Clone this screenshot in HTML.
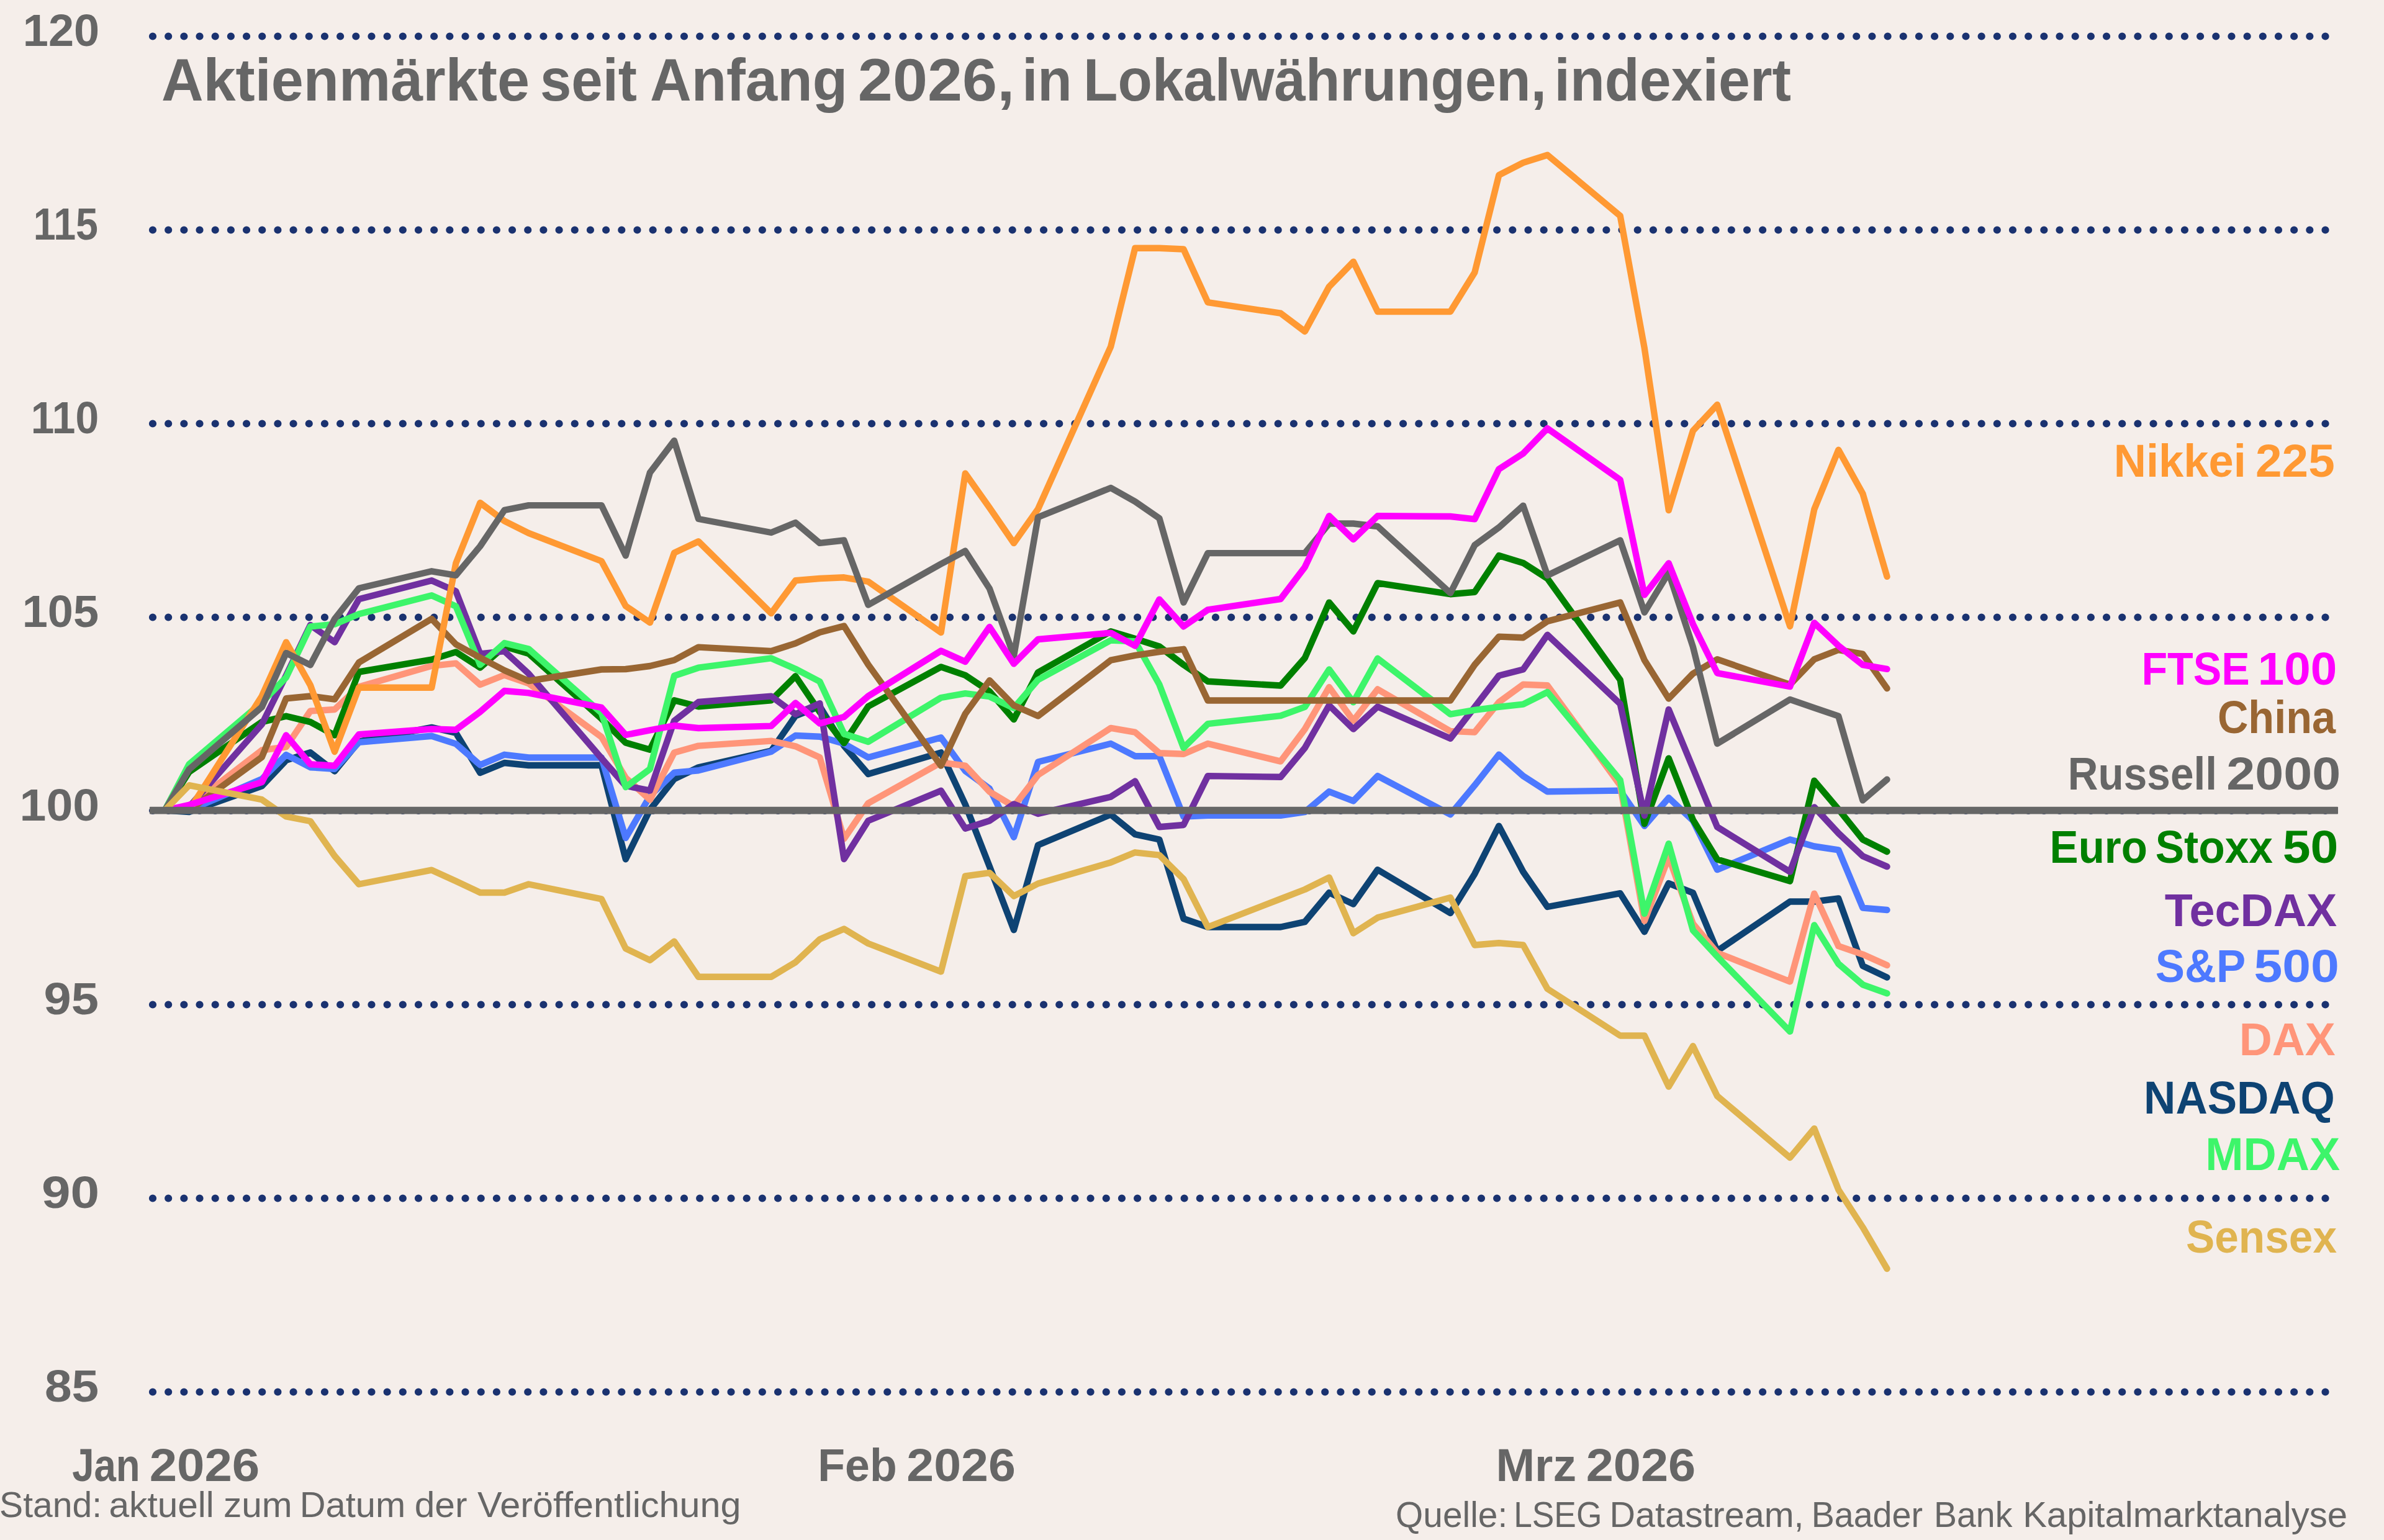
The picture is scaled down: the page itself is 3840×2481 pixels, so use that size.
<!DOCTYPE html>
<html lang="de"><head><meta charset="utf-8"><title>Aktienmärkte seit Anfang 2026</title>
<style>html,body{margin:0;padding:0;background:#f5eeea;}body{width:3840px;height:2481px;overflow:hidden;}svg{display:block;}text{font-family:"Liberation Sans",sans-serif;}</style></head><body>
<svg width="3840" height="2481" viewBox="0 0 3840 2481">
<rect width="3840" height="2481" fill="#f5eeea"/>
<g stroke="#1a3270" stroke-width="12.2" stroke-linecap="round" stroke-dasharray="0 25.1763" fill="none">
<path d="M246.00 58.50 H3746.50"/>
<path d="M246.00 370.50 H3746.50"/>
<path d="M246.00 682.50 H3746.50"/>
<path d="M246.00 994.50 H3746.50"/>
<path d="M246.00 1306.00 H3746.50"/>
<path d="M246.00 1618.50 H3746.50"/>
<path d="M246.00 1930.50 H3746.50"/>
<path d="M246.00 2242.50 H3746.50"/>
</g>
<text x="36.74" y="74.0" font-size="73" font-weight="bold" fill="#666666" textLength="123.45" lengthAdjust="spacingAndGlyphs">120</text>
<text x="53.84" y="386.0" font-size="73" font-weight="bold" fill="#666666" textLength="104.22" lengthAdjust="spacingAndGlyphs">115</text>
<text x="49.80" y="698.0" font-size="73" font-weight="bold" fill="#666666" textLength="109.31" lengthAdjust="spacingAndGlyphs">110</text>
<text x="35.73" y="1010.0" font-size="73" font-weight="bold" fill="#666666" textLength="123.39" lengthAdjust="spacingAndGlyphs">105</text>
<text x="31.54" y="1321.5" font-size="73" font-weight="bold" fill="#666666" textLength="128.65" lengthAdjust="spacingAndGlyphs">100</text>
<text x="70.64" y="1634.0" font-size="73" font-weight="bold" fill="#666666" textLength="88.47" lengthAdjust="spacingAndGlyphs">95</text>
<text x="67.03" y="1946.0" font-size="73" font-weight="bold" fill="#666666" textLength="93.16" lengthAdjust="spacingAndGlyphs">90</text>
<text x="71.90" y="2258.0" font-size="73" font-weight="bold" fill="#666666" textLength="87.20" lengthAdjust="spacingAndGlyphs">85</text>
<text x="259.98" y="162.0" font-size="97" font-weight="bold" fill="#666666" textLength="593.05" lengthAdjust="spacingAndGlyphs">Aktienmärkte</text>
<text x="869.94" y="162.0" font-size="97" font-weight="bold" fill="#666666" textLength="156.08" lengthAdjust="spacingAndGlyphs">seit</text>
<text x="1046.95" y="162.0" font-size="97" font-weight="bold" fill="#666666" textLength="318.19" lengthAdjust="spacingAndGlyphs">Anfang</text>
<text x="1381.87" y="162.0" font-size="97" font-weight="bold" fill="#666666" textLength="252.35" lengthAdjust="spacingAndGlyphs">2026,</text>
<text x="1646.15" y="162.0" font-size="97" font-weight="bold" fill="#666666" textLength="80.69" lengthAdjust="spacingAndGlyphs">in</text>
<text x="1745.12" y="162.0" font-size="97" font-weight="bold" fill="#666666" textLength="745.78" lengthAdjust="spacingAndGlyphs">Lokalwährungen,</text>
<text x="2503.50" y="162.0" font-size="97" font-weight="bold" fill="#666666" textLength="381.52" lengthAdjust="spacingAndGlyphs">indexiert</text>
<text x="116.17" y="2386.0" font-size="75" font-weight="bold" fill="#666666" textLength="109.54" lengthAdjust="spacingAndGlyphs">Jan</text>
<text x="240.71" y="2386.0" font-size="75" font-weight="bold" fill="#666666" textLength="177.56" lengthAdjust="spacingAndGlyphs">2026</text>
<text x="1317.37" y="2386.0" font-size="75" font-weight="bold" fill="#666666" textLength="127.37" lengthAdjust="spacingAndGlyphs">Feb</text>
<text x="1460.33" y="2386.0" font-size="75" font-weight="bold" fill="#666666" textLength="175.54" lengthAdjust="spacingAndGlyphs">2026</text>
<text x="2409.38" y="2386.0" font-size="75" font-weight="bold" fill="#666666" textLength="129.73" lengthAdjust="spacingAndGlyphs">Mrz</text>
<text x="2554.71" y="2386.0" font-size="75" font-weight="bold" fill="#666666" textLength="176.56" lengthAdjust="spacingAndGlyphs">2026</text>
<text x="-0.92" y="2443.7" font-size="57.5" fill="#666666" textLength="164.91" lengthAdjust="spacingAndGlyphs">Stand:</text>
<text x="175.51" y="2443.7" font-size="57.5" fill="#666666" textLength="169.40" lengthAdjust="spacingAndGlyphs">aktuell</text>
<text x="359.90" y="2443.7" font-size="57.5" fill="#666666" textLength="110.88" lengthAdjust="spacingAndGlyphs">zum</text>
<text x="482.82" y="2443.7" font-size="57.5" fill="#666666" textLength="170.31" lengthAdjust="spacingAndGlyphs">Datum</text>
<text x="667.72" y="2443.7" font-size="57.5" fill="#666666" textLength="84.72" lengthAdjust="spacingAndGlyphs">der</text>
<text x="769.00" y="2443.7" font-size="57.5" fill="#666666" textLength="424.63" lengthAdjust="spacingAndGlyphs">Veröffentlichung</text>
<text x="2248.10" y="2460.1" font-size="57.5" fill="#666666" textLength="180.13" lengthAdjust="spacingAndGlyphs">Quelle:</text>
<text x="2438.20" y="2460.1" font-size="57.5" fill="#666666" textLength="142.18" lengthAdjust="spacingAndGlyphs">LSEG</text>
<text x="2592.47" y="2460.1" font-size="57.5" fill="#666666" textLength="313.07" lengthAdjust="spacingAndGlyphs">Datastream,</text>
<text x="2917.67" y="2460.1" font-size="57.5" fill="#666666" textLength="179.36" lengthAdjust="spacingAndGlyphs">Baader</text>
<text x="3115.06" y="2460.1" font-size="57.5" fill="#666666" textLength="126.35" lengthAdjust="spacingAndGlyphs">Bank</text>
<text x="3258.14" y="2460.1" font-size="57.5" fill="#666666" textLength="522.89" lengthAdjust="spacingAndGlyphs">Kapitalmarktanalyse</text>
<g fill="none" stroke-width="10.4" stroke-linejoin="round" stroke-linecap="round">
<polyline stroke="#0e4373" points="265.5,1305.5 304.6,1308.0 421.8,1266.4 460.9,1224.9 499.9,1212.3 539.0,1242.5 578.1,1194.6 695.3,1171.9 734.3,1180.8 773.4,1245.0 812.5,1229.0 851.5,1233.0 968.8,1232.8 1007.8,1384.3 1046.9,1304.5 1086.0,1255.0 1125.0,1236.3 1242.2,1209.6 1281.3,1153.4 1320.4,1138.0 1359.5,1201.6 1398.5,1247.0 1515.7,1212.4 1554.8,1296.0 1593.9,1396.0 1633.0,1498.2 1672.0,1361.5 1789.2,1312.2 1828.3,1344.1 1867.4,1352.5 1906.4,1480.0 1945.5,1493.5 2062.7,1493.5 2101.8,1485.1 2140.9,1438.1 2179.9,1456.5 2219.0,1401.1 2336.2,1471.0 2375.3,1407.9 2414.3,1330.6 2453.4,1404.5 2492.5,1461.0 2609.7,1439.2 2648.8,1501.2 2687.8,1423.2 2726.9,1438.3 2766.0,1532.0 2883.2,1452.5 2922.3,1452.5 2961.3,1447.5 3000.4,1556.1 3039.5,1574.6"/>
<polyline stroke="#4d79ff" points="265.5,1305.5 304.6,1305.5 421.8,1255.1 460.9,1216.0 499.9,1236.2 539.0,1238.7 578.1,1195.9 695.3,1185.8 734.3,1198.4 773.4,1232.4 812.5,1215.8 851.5,1220.5 968.8,1220.5 1007.8,1350.0 1046.9,1282.3 1086.0,1244.8 1125.0,1241.2 1242.2,1211.0 1281.3,1185.0 1320.4,1186.8 1359.5,1198.0 1398.5,1220.2 1515.7,1188.3 1554.8,1242.0 1593.9,1270.5 1633.0,1348.7 1672.0,1227.5 1789.2,1198.0 1828.3,1218.2 1867.4,1218.2 1906.4,1315.5 1945.5,1313.9 2062.7,1313.9 2101.8,1308.2 2140.9,1275.3 2179.9,1290.4 2219.0,1250.1 2336.2,1312.2 2375.3,1265.2 2414.3,1215.6 2453.4,1250.1 2492.5,1275.3 2609.7,1273.6 2648.8,1330.6 2687.8,1285.3 2726.9,1322.0 2766.0,1401.1 2883.2,1352.5 2922.3,1363.5 2961.3,1369.3 3000.4,1462.6 3039.5,1466.0"/>
<polyline stroke="#ff9579" points="265.5,1305.5 304.6,1299.0 421.8,1208.5 460.9,1203.4 499.9,1145.5 539.0,1143.0 578.1,1106.4 695.3,1072.8 734.3,1068.7 773.4,1103.0 812.5,1087.5 851.5,1101.0 968.8,1187.2 1007.8,1253.0 1046.9,1288.5 1086.0,1212.4 1125.0,1201.6 1242.2,1193.6 1281.3,1202.3 1320.4,1220.3 1359.5,1351.3 1398.5,1294.0 1515.7,1228.5 1554.8,1233.6 1593.9,1275.5 1633.0,1299.0 1672.0,1248.5 1789.2,1172.9 1828.3,1179.6 1867.4,1213.2 1906.4,1214.8 1945.5,1198.0 2062.7,1226.6 2101.8,1174.6 2140.9,1107.0 2179.9,1161.1 2219.0,1110.4 2336.2,1177.9 2375.3,1179.6 2414.3,1131.3 2453.4,1102.8 2492.5,1104.2 2609.7,1265.2 2648.8,1483.6 2687.8,1381.0 2726.9,1488.0 2766.0,1535.0 2883.2,1581.3 2922.3,1439.6 2961.3,1524.2 3000.4,1537.6 3039.5,1555.1"/>
<polyline stroke="#008000" points="265.5,1305.5 304.6,1243.8 421.8,1163.1 460.9,1153.8 499.9,1163.1 539.0,1184.5 578.1,1082.5 695.3,1062.6 734.3,1050.4 773.4,1075.5 812.5,1041.6 851.5,1053.0 968.8,1158.0 1007.8,1196.6 1046.9,1207.8 1086.0,1128.2 1125.0,1138.2 1242.2,1128.2 1281.3,1089.3 1320.4,1147.0 1359.5,1197.2 1398.5,1138.0 1515.7,1074.4 1554.8,1087.8 1593.9,1113.8 1633.0,1159.0 1672.0,1083.2 1789.2,1017.2 1828.3,1029.0 1867.4,1041.5 1906.4,1071.0 1945.5,1097.8 2062.7,1104.5 2101.8,1060.0 2140.9,970.6 2179.9,1017.2 2219.0,939.4 2336.2,957.2 2375.3,953.9 2414.3,895.1 2453.4,906.9 2492.5,932.0 2609.7,1095.2 2648.8,1327.3 2687.8,1221.6 2726.9,1320.6 2766.0,1384.4 2883.2,1419.6 2922.3,1257.8 2961.3,1303.8 3000.4,1352.5 3039.5,1372.0"/>
<polyline stroke="#7030a0" points="265.5,1305.5 304.6,1300.0 421.8,1166.9 460.9,1088.0 499.9,1006.9 539.0,1034.6 578.1,965.3 695.3,935.3 734.3,952.4 773.4,1053.3 812.5,1049.2 851.5,1085.3 968.8,1221.5 1007.8,1266.0 1046.9,1273.6 1086.0,1161.3 1125.0,1131.0 1242.2,1121.6 1281.3,1150.6 1320.4,1133.2 1359.5,1384.0 1398.5,1322.3 1515.7,1273.9 1554.8,1334.8 1593.9,1322.3 1633.0,1295.4 1672.0,1311.0 1789.2,1283.7 1828.3,1258.5 1867.4,1332.3 1906.4,1329.0 1945.5,1250.1 2062.7,1251.8 2101.8,1204.8 2140.9,1136.4 2179.9,1174.6 2219.0,1138.5 2336.2,1189.7 2375.3,1139.3 2414.3,1088.5 2453.4,1078.5 2492.5,1022.8 2609.7,1134.0 2648.8,1313.9 2687.8,1143.0 2726.9,1237.6 2766.0,1332.3 2883.2,1404.5 2922.3,1300.4 2961.3,1342.4 3000.4,1379.3 3039.5,1396.1"/>
<polyline stroke="#3df56a" points="265.5,1305.5 304.6,1231.2 421.8,1131.6 460.9,1091.3 499.9,1009.4 539.0,1005.6 578.1,989.2 695.3,959.3 734.3,976.8 773.4,1071.0 812.5,1036.0 851.5,1045.5 968.8,1148.7 1007.8,1268.0 1046.9,1239.0 1086.0,1088.7 1125.0,1075.7 1242.2,1060.4 1281.3,1077.7 1320.4,1098.0 1359.5,1182.2 1398.5,1195.0 1515.7,1124.0 1554.8,1117.2 1593.9,1122.2 1633.0,1140.7 1672.0,1095.2 1789.2,1031.5 1828.3,1033.2 1867.4,1102.8 1906.4,1204.8 1945.5,1166.2 2062.7,1153.2 2101.8,1138.9 2140.9,1078.5 2179.9,1131.3 2219.0,1060.8 2336.2,1150.6 2375.3,1143.9 2414.3,1138.9 2453.4,1134.7 2492.5,1115.0 2609.7,1256.8 2648.8,1472.0 2687.8,1359.2 2726.9,1498.7 2766.0,1541.0 2883.2,1661.8 2922.3,1490.4 2961.3,1552.7 3000.4,1586.3 3039.5,1600.4"/>
<polyline stroke="#996633" points="265.5,1305.5 304.6,1305.5 421.8,1219.8 460.9,1125.3 499.9,1121.5 539.0,1126.6 578.1,1067.3 695.3,997.0 734.3,1038.0 773.4,1059.5 812.5,1080.0 851.5,1097.0 968.8,1078.5 1007.8,1078.0 1046.9,1073.0 1086.0,1063.5 1125.0,1042.6 1242.2,1049.0 1281.3,1036.5 1320.4,1018.7 1359.5,1008.6 1398.5,1070.8 1515.7,1233.6 1554.8,1150.0 1593.9,1096.2 1633.0,1136.5 1672.0,1153.5 1789.2,1063.7 1828.3,1055.8 1867.4,1050.0 1906.4,1045.8 1945.5,1128.5 2062.7,1128.5 2101.8,1128.5 2140.9,1128.5 2179.9,1128.5 2219.0,1128.5 2336.2,1128.5 2375.3,1071.0 2414.3,1025.6 2453.4,1027.3 2492.5,1000.9 2609.7,970.6 2648.8,1063.4 2687.8,1125.5 2726.9,1085.2 2766.0,1062.2 2883.2,1102.8 2922.3,1062.1 2961.3,1047.0 3000.4,1053.7 3039.5,1109.1"/>
<polyline stroke="#ff9933" points="265.5,1305.5 304.6,1305.5 421.8,1121.5 460.9,1034.6 499.9,1103.9 539.0,1211.0 578.1,1107.7 695.3,1107.7 734.3,907.4 773.4,810.0 812.5,839.3 851.5,858.8 968.8,904.0 1007.8,976.2 1046.9,1003.0 1086.0,890.6 1125.0,872.2 1242.2,988.0 1281.3,935.3 1320.4,932.0 1359.5,930.3 1398.5,937.0 1515.7,1019.0 1554.8,762.7 1593.9,818.0 1633.0,875.0 1672.0,820.0 1789.2,558.3 1828.3,399.8 1867.4,399.8 1906.4,401.5 1945.5,487.1 2062.7,504.7 2101.8,534.0 2140.9,461.8 2179.9,421.6 2219.0,502.1 2336.2,502.1 2375.3,439.0 2414.3,282.2 2453.4,262.1 2492.5,249.7 2609.7,347.7 2648.8,560.9 2687.8,822.0 2726.9,694.0 2766.0,652.0 2883.2,1009.0 2922.3,820.5 2961.3,724.7 3000.4,795.3 3039.5,928.9"/>
<polyline stroke="#666666" points="265.5,1305.5 304.6,1239.5 421.8,1139.0 460.9,1052.0 499.9,1071.3 539.0,997.2 578.1,947.8 695.3,920.3 734.3,926.8 773.4,880.0 812.5,821.8 851.5,814.1 968.8,814.1 1007.8,895.0 1046.9,761.4 1086.0,710.0 1125.0,836.0 1242.2,858.0 1281.3,842.0 1320.4,874.9 1359.5,870.5 1398.5,974.5 1515.7,908.5 1554.8,887.7 1593.9,948.2 1633.0,1056.5 1672.0,833.2 1789.2,786.0 1828.3,808.0 1867.4,835.0 1906.4,970.6 1945.5,891.1 2062.7,891.1 2101.8,891.1 2140.9,843.5 2179.9,843.5 2219.0,848.0 2336.2,955.5 2375.3,878.3 2414.3,849.8 2453.4,814.6 2492.5,927.0 2609.7,870.5 2648.8,986.5 2687.8,922.5 2726.9,1042.0 2766.0,1198.0 2883.2,1126.9 2922.3,1140.3 2961.3,1153.7 3000.4,1289.4 3039.5,1255.8"/>
<polyline stroke="#ff00ff" points="265.5,1305.5 304.6,1296.7 421.8,1260.1 460.9,1184.5 499.9,1231.2 539.0,1233.7 578.1,1183.3 695.3,1174.5 734.3,1175.7 773.4,1146.7 812.5,1113.0 851.5,1116.4 968.8,1139.9 1007.8,1184.0 1046.9,1176.4 1086.0,1169.0 1125.0,1173.0 1242.2,1169.6 1281.3,1132.6 1320.4,1165.5 1359.5,1155.0 1398.5,1121.5 1515.7,1048.5 1554.8,1066.0 1593.9,1010.0 1633.0,1069.4 1672.0,1030.0 1789.2,1019.6 1828.3,1040.5 1867.4,965.6 1906.4,1009.3 1945.5,982.4 2062.7,965.0 2101.8,913.6 2140.9,831.3 2179.9,869.0 2219.0,831.3 2336.2,832.0 2375.3,836.4 2414.3,755.8 2453.4,730.6 2492.5,690.2 2609.7,773.0 2648.8,958.4 2687.8,907.5 2726.9,1005.5 2766.0,1084.3 2883.2,1106.1 2922.3,1003.4 2961.3,1040.3 3000.4,1071.2 3039.5,1077.9"/>
<polyline stroke="#e0b450" points="265.5,1305.5 304.6,1265.1 421.8,1288.2 460.9,1315.4 499.9,1323.0 539.0,1379.0 578.1,1424.5 695.3,1401.7 734.3,1419.5 773.4,1438.0 812.5,1438.0 851.5,1424.5 968.8,1448.3 1007.8,1528.0 1046.9,1546.9 1086.0,1516.7 1125.0,1573.7 1242.2,1573.7 1281.3,1550.2 1320.4,1513.3 1359.5,1496.5 1398.5,1520.0 1515.7,1565.3 1554.8,1411.5 1593.9,1406.2 1633.0,1443.6 1672.0,1423.5 1789.2,1389.4 1828.3,1373.3 1867.4,1377.6 1906.4,1416.2 1945.5,1493.5 2062.7,1448.1 2101.8,1433.0 2140.9,1413.6 2179.9,1503.5 2219.0,1478.3 2336.2,1446.0 2375.3,1522.5 2414.3,1519.2 2453.4,1522.5 2492.5,1593.0 2609.7,1668.5 2648.8,1668.5 2687.8,1750.6 2726.9,1685.3 2766.0,1765.7 2883.2,1865.0 2922.3,1818.1 2961.3,1916.7 3000.4,1977.2 3039.5,2044.0"/>
</g>
<rect x="241" y="1299.7" width="3525" height="11.7" rx="1" fill="#666666"/>
<text x="3404.83" y="768.0" font-size="75" font-weight="bold" fill="#ff9933" textLength="212.95" lengthAdjust="spacingAndGlyphs">Nikkei</text>
<text x="3633.11" y="768.0" font-size="75" font-weight="bold" fill="#ff9933" textLength="127.55" lengthAdjust="spacingAndGlyphs">225</text>
<text x="3449.43" y="1102.5" font-size="75" font-weight="bold" fill="#ff00ff" textLength="174.27" lengthAdjust="spacingAndGlyphs">FTSE</text>
<text x="3636.75" y="1102.5" font-size="75" font-weight="bold" fill="#ff00ff" textLength="127.43" lengthAdjust="spacingAndGlyphs">100</text>
<text x="3571.97" y="1181.4" font-size="75" font-weight="bold" fill="#996633" textLength="190.03" lengthAdjust="spacingAndGlyphs">China</text>
<text x="3330.87" y="1271.9" font-size="75" font-weight="bold" fill="#666666" textLength="240.08" lengthAdjust="spacingAndGlyphs">Russell</text>
<text x="3586.32" y="1271.9" font-size="75" font-weight="bold" fill="#666666" textLength="183.97" lengthAdjust="spacingAndGlyphs">2000</text>
<text x="3301.61" y="1389.8" font-size="75" font-weight="bold" fill="#008000" textLength="157.30" lengthAdjust="spacingAndGlyphs">Euro</text>
<text x="3471.77" y="1389.8" font-size="75" font-weight="bold" fill="#008000" textLength="189.23" lengthAdjust="spacingAndGlyphs">Stoxx</text>
<text x="3676.67" y="1389.8" font-size="75" font-weight="bold" fill="#008000" textLength="89.68" lengthAdjust="spacingAndGlyphs">50</text>
<text x="3486.80" y="1491.9" font-size="75" font-weight="bold" fill="#7030a0" textLength="277.41" lengthAdjust="spacingAndGlyphs">TecDAX</text>
<text x="3471.73" y="1581.7" font-size="75" font-weight="bold" fill="#4d79ff" textLength="145.53" lengthAdjust="spacingAndGlyphs">S&amp;P</text>
<text x="3630.51" y="1581.7" font-size="75" font-weight="bold" fill="#4d79ff" textLength="137.41" lengthAdjust="spacingAndGlyphs">500</text>
<text x="3606.63" y="1699.8" font-size="75" font-weight="bold" fill="#ff9579" textLength="155.00" lengthAdjust="spacingAndGlyphs">DAX</text>
<text x="3453.11" y="1793.8" font-size="75" font-weight="bold" fill="#0e4373" textLength="307.74" lengthAdjust="spacingAndGlyphs">NASDAQ</text>
<text x="3552.29" y="1884.9" font-size="75" font-weight="bold" fill="#3df56a" textLength="216.74" lengthAdjust="spacingAndGlyphs">MDAX</text>
<text x="3520.99" y="2017.5" font-size="75" font-weight="bold" fill="#e0b450" textLength="243.02" lengthAdjust="spacingAndGlyphs">Sensex</text>
</svg></body></html>
